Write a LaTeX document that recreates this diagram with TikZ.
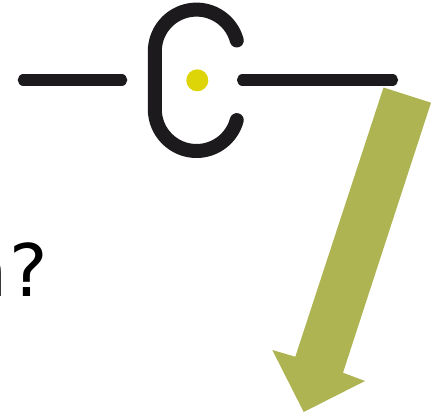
\documentclass[tikz,border=0pt]{standalone}
\usepackage{fontspec}
\setmainfont{DejaVu Sans}
\definecolor{inkblack}{HTML}{1C1A1D}
\definecolor{dotyellow}{HTML}{DDD508}
\definecolor{arrowolive}{HTML}{AFB452}
\tikzset{
  stroke/.style={draw=inkblack,line cap=round,line join=round},
  thinbar/.style={stroke,line width=11.2pt},
  thickbar/.style={stroke,line width=14pt},
}
\begin{document}
\begin{tikzpicture}[x=1pt,y=1pt]
\useasboundingbox (0,0) rectangle (435,418);
\draw[thinbar] (23.3,338) -- (121.7,338);
\draw[thinbar] (242.5,338) -- (392.5,338);
\draw[thickbar] (236.8,377.5) arc[start angle=15,end angle=180,radius=41.7] -- (154.8,308.7) arc[start angle=180,end angle=345,radius=41.7];
\fill[dotyellow] (197.3,337.7) circle[radius=11];
\fill[arrowolive] (383.5,330.5) -- (431,315.3) -- (343,45.3) -- (365,37) -- (303.7,6) -- (272.3,68) -- (295.3,61.3) -- cycle;
\node[anchor=base west,inner sep=0pt,font=\fontsize{72.5}{86}\selectfont] (q) at (-39,122) {n\kern2pt ?};
\end{tikzpicture}
\end{document}
